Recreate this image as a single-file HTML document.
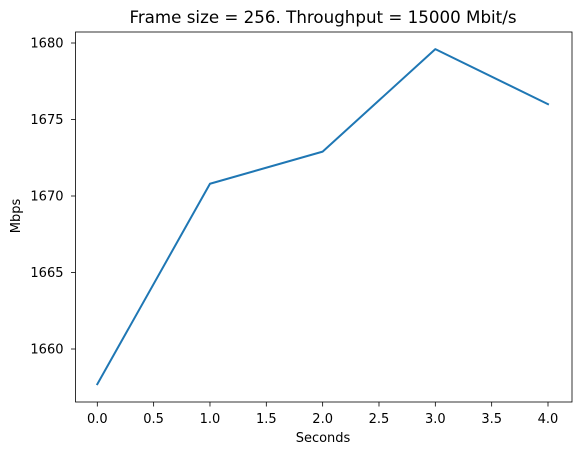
<!DOCTYPE html>
<html><head><meta charset="utf-8"><style>
body{margin:0;background:#fff;}
svg{display:block;font-family:"DejaVu Sans","Liberation Sans",sans-serif;}
</style></head><body>
<svg id="chart" width="580" height="455" xmlns="http://www.w3.org/2000/svg">
<rect x="0" y="0" width="580" height="455" fill="#fff"/>
<text x="323" y="23" font-size="16.7" text-anchor="middle" fill="#000">Frame size = 256. Throughput = 15000 Mbit/s</text>
<g id="axes"></g>
<text x="323" y="442" font-size="13" text-anchor="middle">Seconds</text>
<text x="0" y="0" font-size="13" text-anchor="middle" transform="translate(20,216) rotate(-90)">Mbps</text>
</svg>
<script>
const xValues=[0,1,2,3,4];
const yValues=[1657.7,1670.8,1672.9,1679.6,1676.0];
const xTicks=[0,0.5,1,1.5,2,2.5,3,3.5,4];
const xTickLabels=["0.0","0.5","1.0","1.5","2.0","2.5","3.0","3.5","4.0"];
const yTicks=[1660,1665,1670,1675,1680];
const yTickLabels=["1660","1665","1670","1675","1680"];
const L=75.5,R=572,T=32,B=402;
const sx=v=>97.3+(v-0)*(548-97.3)/4;
const sy=v=>349+(v-1660)*(43-349)/20;
const ns="http://www.w3.org/2000/svg";
const g=document.getElementById('axes');
function mk(t,a){const e=document.createElementNS(ns,t);for(const k in a)e.setAttribute(k,a[k]);g.appendChild(e);return e;}
xTicks.forEach((v,i)=>{
 const l=mk('line',{x1:sx(v),x2:sx(v),y1:B,y2:B+4.5,stroke:'#000','stroke-width':0.8});
 
 
 const t=mk('text',{x:sx(v),y:423,'font-size':13,'text-anchor':'middle'});
 t.textContent=xTickLabels[i];
 
 
});
yTicks.forEach((v,i)=>{
 const l=mk('line',{x1:L-4.5,x2:L,y1:sy(v),y2:sy(v),stroke:'#000','stroke-width':0.8});
 
 
 const t=mk('text',{x:L-12,y:sy(v)+4.5,'font-size':13,'text-anchor':'end'});
 t.textContent=yTickLabels[i];
 
 
});
const pts=xValues.map((x,i)=>sx(x)+','+sy(yValues[i])).join(' ');
const line=mk('polyline',{points:pts,fill:'none',stroke:'#1f77b4','stroke-width':2,'stroke-linejoin':'round','stroke-linecap':'square'});


const fr=mk('rect',{x:L,y:T,width:R-L,height:B-T,fill:'none',stroke:'#000','stroke-width':0.8});


</script>
</body></html>
